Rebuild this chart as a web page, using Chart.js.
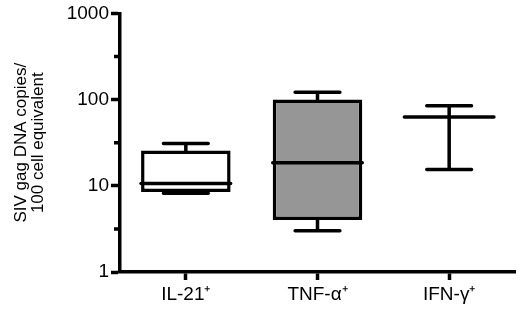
<!DOCTYPE html>
<html>
<head>
<meta charset="utf-8">
<script src="https://cdn.jsdelivr.net/npm/chart.js@4.4.1/dist/chart.umd.min.js"></script>
<style>
    html, body { margin: 0; padding: 0; background: #fff; }
    #wrap { width: 520px; height: 310px; position: relative; }
</style>
</head>
<body>
<div id="wrap"><canvas id="boxChart"></canvas></div>
<script>
// box plot values, one entry per category
var categories = ["IL-21\u207A", "TNF-\u03B1\u207A", "IFN-\u03B3\u207A"];
var whisker_min = [8.2, 3.0, 15.5];
var box_q1 = [8.5, 4.0, 63];
var box_median = [10.6, 18.5, 63];
var box_q3 = [25.6, 100, 63];
var whisker_max = [31, 122, 85];
var box_fill = ["#ffffff", "#969696", "#ffffff"];

var y_ticks = [1, 10, 100, 1000];
var y_minor_ticks = [3.16, 31.6, 316];

var fontFamily = "'Liberation Sans', Arial, Helvetica, sans-serif";

// whiskers, caps, medians and minor ticks
var boxPlugin = {
    id: "boxPlugin",
    afterDatasetsDraw: function (chart) {
        var ctx = chart.ctx;
        var yScale = chart.scales.y;
        var meta = chart.getDatasetMeta(0);
        ctx.save();
        ctx.strokeStyle = "#000";
        ctx.lineWidth = 3.5;
        ctx.lineCap = "round";
        meta.data.forEach(function (bar, i) {
            var x = bar.x;
            var w = bar.width;
            var yMin = yScale.getPixelForValue(whisker_min[i]);
            var yQ1 = yScale.getPixelForValue(box_q1[i]);
            var yMed = yScale.getPixelForValue(box_median[i]);
            var yQ3 = yScale.getPixelForValue(box_q3[i]);
            var yMax = yScale.getPixelForValue(whisker_max[i]);

            ctx.beginPath();
            ctx.moveTo(x, yQ3);
            ctx.lineTo(x, yMax);
            ctx.moveTo(x - w / 4, yMax);
            ctx.lineTo(x + w / 4, yMax);
            ctx.moveTo(x, yQ1);
            ctx.lineTo(x, yMin);
            ctx.moveTo(x - w / 4, yMin);
            ctx.lineTo(x + w / 4, yMin);
            ctx.stroke();

            ctx.beginPath();
            ctx.moveTo(x - w / 2, yMed);
            ctx.lineTo(x + w / 2, yMed);
            ctx.stroke();
        });

        var left = chart.chartArea.left;
        ctx.lineCap = "butt";
        ctx.beginPath();
        y_minor_ticks.forEach(function (v) {
            var y = yScale.getPixelForValue(v);
            ctx.moveTo(left - 6, y);
            ctx.lineTo(left, y);
        });
        ctx.stroke();
        ctx.restore();
    },
};

var boxData = {
    labels: categories,
    datasets: [
        {
            data: categories.map((c, i) => [box_q1[i], box_q3[i]]),
            backgroundColor: box_fill,
            borderColor: "#000",
            borderWidth: 3.5,
            borderSkipped: false,
            categoryPercentage: 1,
            barPercentage: 0.68,
        },
    ],
};

new Chart(document.getElementById("boxChart").getContext("2d"), {
    type: "bar",
    data: boxData,
    plugins: [boxPlugin],
    options: {
        responsive: true,
        maintainAspectRatio: false,
        animation: false,
        layout: {
            padding: { top: 12, right: 5, left: 0, bottom: 0 },
        },
        plugins: {
            legend: { display: false },
            tooltip: { enabled: false },
        },
        scales: {
            x: {
                afterFit: function (scale) {
                    scale.height = 38;
                },
                grid: {
                    offset: false,
                    drawOnChartArea: false,
                    tickLength: 8,
                    tickWidth: 3.5,
                    tickColor: "#000",
                },
                border: { display: true, color: "#000", width: 3.5 },
                ticks: {
                    color: "#000",
                    padding: 3,
                    font: { family: fontFamily, size: 19 },
                },
            },
            y: {
                type: "logarithmic",
                min: 1,
                max: 1000,
                afterFit: function (scale) {
                    scale.width = 120;
                },
                afterBuildTicks: function (scale) {
                    scale.ticks = y_ticks.map((v) => ({ value: v }));
                },
                grid: {
                    drawOnChartArea: false,
                    tickLength: 9,
                    tickWidth: 3.5,
                    tickColor: "#000",
                },
                border: { display: true, color: "#000", width: 3.5 },
                ticks: {
                    color: "#000",
                    padding: 2,
                    font: { family: fontFamily, size: 19 },
                    callback: function (v) {
                        return String(v);
                    },
                },
                title: {
                    display: true,
                    text: ["SIV gag DNA copies/", "100 cell equivalent"],
                    color: "#000",
                    font: { family: fontFamily, size: 17, lineHeight: 1.05 },
                    padding: { top: 12, bottom: 0 },
                },
            },
        },
    },
});
</script>
</body>
</html>
